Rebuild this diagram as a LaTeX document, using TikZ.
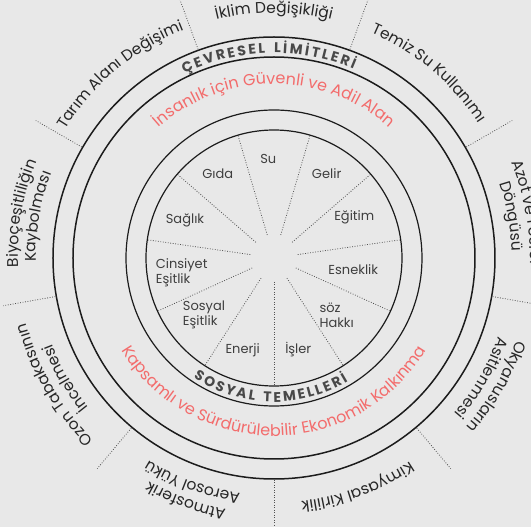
\documentclass[tikz,border=0pt]{standalone}
\usepackage{fontspec}
\setmainfont{Poppins}
\usetikzlibrary{decorations.text}
\newsavebox\scbox
\definecolor{bgc}{RGB}{232,232,232}
\definecolor{ringc}{RGB}{28,28,28}
\definecolor{redt}{RGB}{243,108,108}
\definecolor{outt}{RGB}{38,38,38}
\definecolor{innt}{RGB}{62,62,62}
\definecolor{capt}{RGB}{72,72,72}
\definecolor{dotc}{RGB}{80,80,80}
\newcommand\capfont{\rmfamily\fontsize{14}{16}\selectfont\bfseries}
\newcommand\outfont{\fontsize{15.5}{18}\selectfont}
\newcommand\redfont{\fontsize{16}{18}\selectfont}
\def\scstar{*}
\AtBeginDocument{%
  \normalfont
  \foreach \x in {Ç,E,V,R,S,L,İ,M,T,O,Y,A}{%
    \sbox\scbox{\capfont\x}%
    \expandafter\xdef\csname scw@\x\endcsname{\the\wd\scbox}%
  }%
  \expandafter\xdef\csname scw@*\endcsname{4pt}%
}
\tikzset{
  ring/.style={draw=ringc, line width=1.5pt},
  thinring/.style={draw=ringc, line width=1.2pt},
  sepdot/.style={draw=dotc, line width=0.8pt, dash pattern=on 0.8pt off 1.7pt},
  inlab/.style={font=\fontsize{13}{15}\selectfont, text=innt, align=left, inner sep=0pt},
  capnode/.style={anchor=base, inner sep=0pt, text=capt, font=\capfont},
}
% clockwise arc text, tops outward: #1 radius, #2 centre angle, #3 text
\newcommand\cwlabel[3]{%
  \pgfmathsetmacro\lsa{#2+40}\pgfmathsetmacro\lea{#2-40}%
  \path[decorate, decoration={text along path, text align=center, text color=outt,
    text={|\outfont|#3}}] (\lsa:#1pt) arc[start angle=\lsa, end angle=\lea, radius=#1pt];%
}
% letter-spaced caps: #1 radius, #2 centre angle, #3 dir (1 top / -1 bottom), #4 tracking, #5 list (* = word gap)
\newcommand\spacedcaps[5]{%
  \gdef\sctot{0}%
  \foreach \ch in {#5}{%
    \edef\chw{\csname scw@\ch\endcsname}%
    \pgfmathsetmacro\sctmp{\sctot+\chw+#4}%
    \global\let\sctot\sctmp
  }%
  \pgfmathsetmacro\sctotal{\sctot-#4}%
  \gdef\sccum{0}%
  \foreach \ch in {#5}{%
    \edef\chw{\csname scw@\ch\endcsname}%
    \ifx\ch\scstar\def\scchar{}\else\let\scchar\ch\fi
    \pgfmathsetmacro\scmid{\sccum+\chw/2}%
    \pgfmathsetmacro\scang{#2+#3*(\sctotal/2-\scmid)*57.29578/#1}%
    \pgfmathsetmacro\scrot{\scang-#3*90}%
    \node[capnode, rotate=\scrot] at (\scang:#1pt) {\scchar};
    \pgfmathsetmacro\sctmp{\sccum+\chw+#4}%
    \global\let\sccum\sctmp
  }%
}
\begin{document}
\begin{tikzpicture}[x=1pt,y=1pt]
\useasboundingbox (-274,-269) rectangle (257,258);
\fill[bgc] (-274,-269) rectangle (257,258);
\clip (-274,-269) rectangle (257,258);
\coordinate (c) at (0,0);

% rings
\draw[ring] (c) circle[radius=221pt];
\draw[ring] (c) circle[radius=201pt];
\draw[thinring] (c) circle[radius=148pt];
\draw[thinring] (c) circle[radius=128pt];

% inner radial dotted lines
\foreach \k in {0,...,10}{%
  \pgfmathsetmacro\a{-90+\k*360/11}%
  \draw[sepdot] (\a:24pt) -- (\a:127pt);
}
% outer separators
\foreach \a in {150,110,70,30,-10,-50,-90,-130,-170}{%
  \draw[sepdot] (\a:222pt) -- (\a:275pt);
}

% inner labels
\node[inlab] (su) at (-5.7,99) {Su};
\node[inlab] (gida) at (-56.3,84) {Gıda};
\node[inlab] (gelir) at (52.7,84.7) {Gelir};
\node[inlab] (egitim) at (80.3,40.7) {Eğitim};
\node[inlab] (saglik) at (-89,38) {Sağlık};
\node[inlab] (esnek) at (79.3,-12) {Esneklik};
\node[inlab] (cins) at (-92.3,-14.7) {Cinsiyet\\Eşitlik};
\node[inlab] (soz) at (62.7,-57) {söz\\Hakkı};
\node[inlab] (sosyal) at (-70,-57) {Sosyal\\Eşitlik};
\node[inlab] (isler) at (24.3,-91.3) {İşler};
\node[inlab] (enerji) at (-31.3,-92) {Enerji};

% ring captions
\spacedcaps{205}{91.5}{1}{2.3}{Ç,E,V,R,E,S,E,L,*,L,İ,M,İ,T,L,E,R,İ}
\spacedcaps{144}{-91.5}{-1}{2.3}{S,O,S,Y,A,L,*,T,E,M,E,L,L,E,R,İ}

% red texts
\path[decorate, decoration={text along path, text align=center, text color=redt,
  text={|\redfont|İnsanlık için Güvenli ve Adil Alan}}]
  (170:174pt) arc[start angle=170, end angle=10, radius=174pt];
\path[decorate, decoration={text along path, text align=center, text color=redt,
  text={|\redfont|Kapsamlı ve Sürdürülebilir Ekonomik Kalkınma}}]
  (-170:178pt) arc[start angle=-170, end angle=-10, radius=178pt];

% outer labels
\cwlabel{245}{130}{Tarım Alanı Değişimi}
\cwlabel{245}{90}{İklim Değişikliği}
\cwlabel{245}{50}{Temiz Su Kullanımı}
\cwlabel{256}{10}{Azot ve Fosfor}
\cwlabel{238}{10}{Döngüsü}
\cwlabel{256}{-30}{Okyanusların}
\cwlabel{238}{-30}{Asitlenmesi}
\cwlabel{245}{-70}{Kimyasal Kirlilik}
\cwlabel{256}{-110}{Atmosferik}
\cwlabel{238}{-110}{Aerosol Yükü}
\cwlabel{256}{-150}{Ozon Tabakasının}
\cwlabel{238}{-150}{İncelmesi}
\cwlabel{256}{170}{Biyoçeşitliliğin}
\cwlabel{238}{170}{Kaybolması}
\end{tikzpicture}
\end{document}
